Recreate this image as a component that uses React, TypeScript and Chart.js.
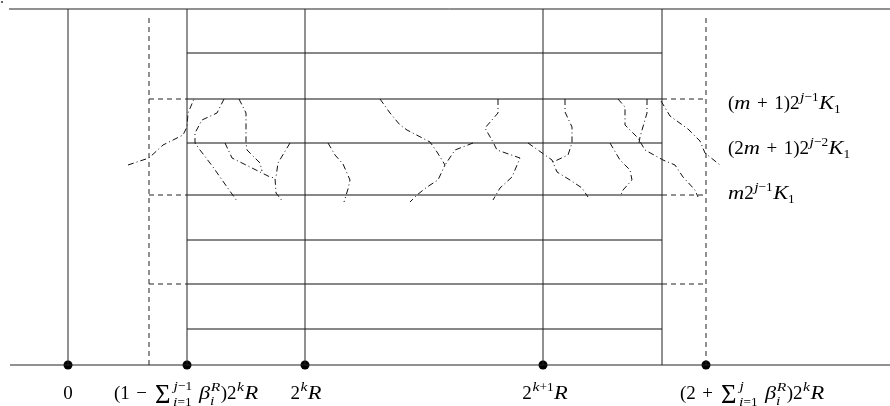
import React, { useEffect, useRef } from "react";
import { Chart, registerables } from "chart.js";

Chart.register(...registerables);

// ---- Diagram coordinate system: x = horizontal position, y = height above the axis ----
const X_MIN = 0;
const X_MAX = 890;
const Y_MIN = -41;
const Y_MAX = 365;

// ---- Frame ----
const axisSpan = [10, 890];
const topLineY = 356;
const topLineSpan = [9, 890];
const solidVerticalX = [68, 187, 305, 543, 662];
const dashedVerticalX = [149, 706];
const dashedVerticalTop = 351;
const stripLeft = 187;
const stripRight = 662;
const stripLevels = [312, 266, 222, 170, 125, 81, 36];
const dashedLevels = [266, 170, 81];
const dotX = [68, 187, 305, 543, 706];

// ---- Dash-dot curves (x, y) ----
const curveA = [[128, 200], [149, 207], [163, 220], [183, 230], [187, 238], [188, 252], [194, 266]];
const curveB = [[224, 266], [217, 252], [202, 245], [195, 232], [195, 222], [200, 215], [213, 198], [227, 178], [237, 164]];
const curveC = [[239, 266], [246, 252], [246, 222], [247, 215], [260, 202], [262, 194]];
const curveD = [[225, 222], [232, 207], [270, 188], [275, 187], [276, 172], [283, 163]];
const curveE = [[290, 222], [278, 202], [276, 188]];
const curveF = [[328, 222], [335, 210], [343, 201], [350, 185], [348, 176], [344, 163]];
const curveG = [[380, 266], [390, 252], [400, 240], [407, 235], [430, 223], [437, 213], [445, 200], [438, 185], [427, 178], [417, 170], [410, 163]];
const curveH = [[473, 222], [455, 215], [445, 200]];
const curveI = [[498, 266], [498, 252], [485, 237], [493, 223], [497, 215], [520, 207], [512, 188], [500, 177], [493, 165]];
const curveJ = [[528, 222], [545, 210], [552, 205], [557, 193], [570, 185], [582, 177], [588, 168]];
const curveK = [[565, 266], [565, 253], [572, 238], [572, 222], [568, 210], [553, 203]];
const curveL = [[610, 222], [620, 205], [630, 195], [632, 185], [623, 175], [620, 168]];
const curveM = [[618, 266], [625, 258], [625, 240], [638, 227], [645, 215], [663, 205], [675, 200], [683, 188], [695, 175], [698, 168]];
const curveN = [[647, 266], [647, 252], [640, 228], [639, 222]];
const curveO = [[661, 264], [670, 249], [688, 236], [700, 224], [705, 212], [720, 200]];
const curves = [curveA, curveB, curveC, curveD, curveE, curveF, curveG, curveH, curveI, curveJ, curveK, curveL, curveM, curveN, curveO];

// ---- Labels (TeX-like markup) ----
const tickLabels = [
  "0",
  "(1 − \\sum_{i=1}^{j−1} β_i^R)2^kR",
  "2^kR",
  "2^{k+1}R",
  "(2 + \\sum_{i=1}^{j} β_i^R)2^kR",
];
const tickLabelX = [68, 186, 306, 545, 752];
const tickLabelBaseline = -34;
const levelLabels = ["(m + 1)2^{j−1}K_1", "(2m + 1)2^{j−2}K_1", "m2^{j−1}K_1"];
const levelLabelBaseline = [256, 211, 166];
const levelLabelX = 728;

const FONT = '"Liberation Serif", "DejaVu Serif", serif';
const FONT_SIZE = 19;
const ITALIC_STRETCH = 1.18;

type MNode = { kind: "ch" | "sum"; ch?: string; sup?: MNode[]; sub?: MNode[] };

function readGroup(s: string, i: number): [string, number] {
  if (s[i] === "{") {
    let depth = 0;
    for (let j = i; j < s.length; j++) {
      if (s[j] === "{") depth++;
      else if (s[j] === "}") {
        depth--;
        if (depth === 0) return [s.slice(i + 1, j), j + 1];
      }
    }
    return [s.slice(i + 1), s.length];
  }
  return [s[i], i + 1];
}

function parseMath(s: string): MNode[] {
  const out: MNode[] = [];
  let i = 0;
  while (i < s.length) {
    const c = s[i];
    if (c === "^" || c === "_") {
      const [g, ni] = readGroup(s, i + 1);
      const last = out[out.length - 1];
      if (c === "^") last.sup = parseMath(g);
      else last.sub = parseMath(g);
      i = ni;
      continue;
    }
    if (s.startsWith("\\sum", i)) {
      out.push({ kind: "sum" });
      i += 4;
      continue;
    }
    out.push({ kind: "ch", ch: c });
    i++;
  }
  return out;
}

function renderMath(ctx: CanvasRenderingContext2D, nodes: MNode[], x: number, y: number, size: number, draw: boolean): number {
  let cx = x;
  for (const n of nodes) {
    let w = 0;
    if (n.kind === "sum") {
      const s = size * 1.4;
      ctx.font = `${s}px ${FONT}`;
      w = ctx.measureText("Σ").width + size * 0.22;
      if (draw) ctx.fillText("Σ", cx + size * 0.08, y + size * 0.22);
    } else {
      const ch = n.ch as string;
      if (ch === " ") {
        w = size * 0.34;
      } else {
        const italic = /[a-zA-Zβ]/.test(ch);
        ctx.font = `${italic ? "italic " : ""}${size}px ${FONT}`;
        const mw = ctx.measureText(ch).width;
        if (italic) {
          w = mw * ITALIC_STRETCH;
          if (draw) {
            ctx.save();
            ctx.translate(cx, y);
            ctx.scale(ITALIC_STRETCH, 1);
            ctx.fillText(ch, 0, 0);
            ctx.restore();
          }
        } else {
          w = mw;
          if (draw) ctx.fillText(ch, cx, y);
        }
      }
    }
    cx += w;
    if (n.sup || n.sub) {
      const ss = size * 0.7;
      const isSum = n.kind === "sum";
      const supY = y - size * (isSum ? 0.5 : 0.42);
      const subY = y + (isSum ? size * 0.38 : n.sup ? size * 0.3 : size * 0.2);
      let sw = 0;
      if (n.sup) sw = Math.max(sw, renderMath(ctx, n.sup, cx + size * 0.03, supY, ss, draw));
      if (n.sub) sw = Math.max(sw, renderMath(ctx, n.sub, cx, subY, ss, draw));
      cx += sw + size * 0.05;
    }
  }
  return cx - x;
}

const labelPlugin = {
  id: "mathLabels",
  afterDraw(chart: any) {
    const ctx: CanvasRenderingContext2D = chart.ctx;
    const xs = chart.scales.x;
    const ys = chart.scales.y;
    ctx.save();
    ctx.fillStyle = "#000";
    ctx.textBaseline = "alphabetic";
    ctx.textAlign = "left";
    tickLabels.forEach((t, i) => {
      const nodes = parseMath(t);
      const w = renderMath(ctx, nodes, 0, 0, FONT_SIZE, false);
      const px = xs.getPixelForValue(tickLabelX[i]) - w / 2;
      const py = ys.getPixelForValue(tickLabelBaseline);
      renderMath(ctx, nodes, px, py, FONT_SIZE, true);
    });
    levelLabels.forEach((t, i) => {
      const nodes = parseMath(t);
      const px = xs.getPixelForValue(levelLabelX);
      const py = ys.getPixelForValue(levelLabelBaseline[i]);
      renderMath(ctx, nodes, px, py, FONT_SIZE, true);
    });
    ctx.restore();
  },
};

function seg(points: number[][], dash: number[], color = "#000", width = 1) {
  return {
    type: "scatter" as const,
    data: points.map(([x, y]) => ({ x, y })),
    showLine: true,
    borderColor: color,
    borderWidth: width,
    borderDash: dash,
    pointRadius: 0,
    tension: 0,
    fill: false,
    clip: false,
  };
}

export default function App() {
  const ref = useRef<HTMLCanvasElement | null>(null);
  useEffect(() => {
    document.body.style.margin = "0";
    const canvas = ref.current;
    if (!canvas) return;
    const datasets: any[] = [];
    const solid: number[] = [];
    const dashed = [5, 4];
    const dashDot = [6, 3, 1, 3];

    datasets.push(seg([[axisSpan[0], 0], [axisSpan[1], 0]], solid, "#222"));
    datasets.push(seg([[topLineSpan[0], topLineY], [topLineSpan[1], topLineY]], solid, "#222"));
    solidVerticalX.forEach((x) => datasets.push(seg([[x, 0], [x, topLineY]], solid, "#222")));
    dashedVerticalX.forEach((x) => datasets.push(seg([[x, 0], [x, dashedVerticalTop]], dashed, "#222")));
    stripLevels.forEach((y) => datasets.push(seg([[stripLeft, y], [stripRight, y]], solid, "#111")));
    dashedLevels.forEach((y) => {
      datasets.push(seg([[dashedVerticalX[0], y], [stripLeft, y]], dashed, "#222"));
      datasets.push(seg([[stripRight, y], [dashedVerticalX[1], y]], dashed, "#222"));
    });
    curves.forEach((c) => datasets.push(seg(c, dashDot, "#111", 1)));
    datasets.push({
      type: "scatter",
      data: dotX.map((x) => ({ x, y: 0 })),
      pointRadius: 4.5,
      pointBackgroundColor: "#000",
      pointBorderWidth: 0,
      showLine: false,
      clip: false,
    });
    datasets.push({
      type: "scatter",
      data: [{ x: 2, y: 363 }],
      pointRadius: 1,
      pointBackgroundColor: "#333",
      pointBorderWidth: 0,
      showLine: false,
      clip: false,
    });

    const chart = new Chart(canvas, {
      type: "scatter",
      data: { datasets },
      options: {
        responsive: false,
        maintainAspectRatio: false,
        animation: false,
        events: [],
        layout: { padding: 0, autoPadding: false },
        plugins: { legend: { display: false }, tooltip: { enabled: false } },
        scales: {
          x: { type: "linear", min: X_MIN, max: X_MAX, display: false },
          y: { type: "linear", min: Y_MIN, max: Y_MAX, display: false },
        },
      } as any,
      plugins: [labelPlugin],
    });
    return () => chart.destroy();
  }, []);
  return (
    <div style={{ position: "absolute", left: 0, top: 0, width: 890, height: 406, background: "#fff" }}>
      <canvas ref={ref} width={890} height={406} style={{ width: 890, height: 406, display: "block" }} />
    </div>
  );
}
